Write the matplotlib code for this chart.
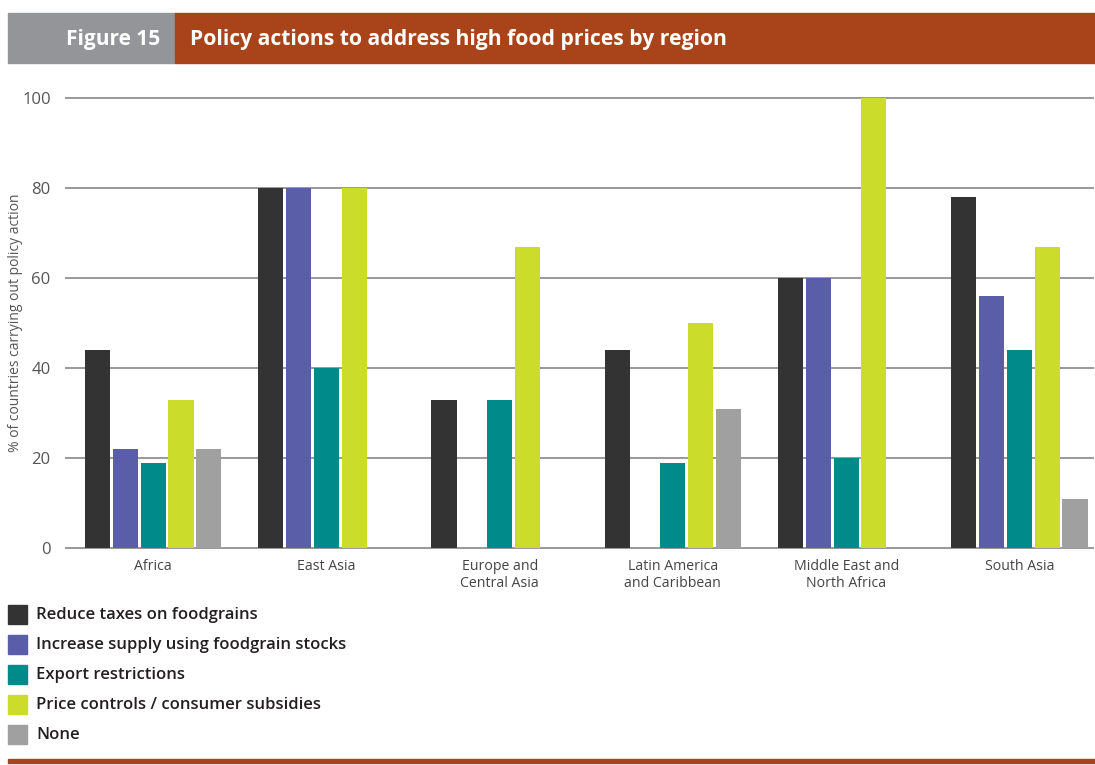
import matplotlib
matplotlib.use("Agg")
import matplotlib.pyplot as plt
import numpy as np
from matplotlib.patches import Rectangle
from matplotlib import font_manager

regions = ["Africa", "East Asia", "Europe and\nCentral Asia", "Latin America\nand Caribbean",
           "Middle East and\nNorth Africa", "South Asia"]
series_names = ["Reduce taxes on foodgrains", "Increase supply using foodgrain stocks",
                "Export restrictions", "Price controls / consumer subsidies", "None"]
reduce_taxes = [44, 80, 33, 44, 60, 78]
increase_supply = [22, 80, 0, 0, 60, 56]
export_restrictions = [19, 40, 33, 19, 20, 44]
price_controls = [33, 80, 67, 50, 100, 67]
none_action = [22, 0, 0, 31, 0, 11]
yticks = [0, 20, 40, 60, 80, 100]

colors = ["#333333", "#5a5ea9", "#008b8a", "#ccdc2b", "#a0a0a0"]
series = [reduce_taxes, increase_supply, export_restrictions, price_controls, none_action]

W, H = 1095, 765
fig = plt.figure(figsize=(W / 100, H / 100), dpi=100)
fig.patch.set_facecolor("white")

font = "Open Sans"
installed = {f.name for f in font_manager.fontManager.ttflist}
narrow = "Liberation Sans Narrow" if "Liberation Sans Narrow" in installed else font

# Header band
fig.patches.append(Rectangle((8 / W, 1 - 63 / H), (175 - 8) / W, 50 / H,
                             transform=fig.transFigure, color="#939598", zorder=0))
fig.patches.append(Rectangle((175 / W, 1 - 63 / H), (1095 - 175) / W, 50 / H,
                             transform=fig.transFigure, color="#a9441a", zorder=0))
fig.text(160 / W, 1 - 39 / H, "Figure 15", color="white", fontsize=15, fontweight="bold",
         family=font, ha="right", va="center")
fig.text(190 / W, 1 - 39 / H, "Policy actions to address high food prices by region",
         color="white", fontsize=15.2, fontweight="bold", family=font, ha="left", va="center")

# Bottom rule
fig.patches.append(Rectangle((8 / W, 1 - 763 / H), (1095 - 8) / W, 4 / H,
                             transform=fig.transFigure, color="#a9441a", zorder=0))

ax = fig.add_axes([66 / W, 1 - 548 / H, (1093 - 66) / W, (548 - 98) / H])
x = np.arange(len(regions))
pitch = 0.1605
width = 0.145
for i, (vals, c) in enumerate(zip(series, colors)):
    ax.bar(x + (i - 2) * pitch, vals, width=width, color=c, zorder=3, linewidth=0)

ax.set_xlim(-0.503, 5.425)
ax.set_ylim(0, 100)
for s in ax.spines.values():
    s.set_visible(False)
for yv in yticks:
    ax.axhline(yv, color="#999999", lw=1.4, zorder=1, clip_on=False)
ax.set_yticks(yticks)
ax.set_yticklabels([str(v) for v in yticks], family=narrow, fontsize=12, color="#555555")
ax.tick_params(axis="y", length=0, pad=11)
ax.set_xticks(x)
ax.set_xticklabels(regions, family=font, fontsize=10.2, color="#444444", linespacing=1.15)
ax.tick_params(axis="x", length=0, pad=8)
fig.text(16 / W, 1 - 323 / H, "% of countries carrying out policy action", family=font,
         fontsize=10, color="#555555", rotation=90, ha="center", va="center")

# Legend
for i, (name, c) in enumerate(zip(series_names, colors)):
    ytop = 605 + i * 30
    fig.patches.append(Rectangle((8 / W, 1 - (ytop + 19) / H), 19 / W, 19 / H,
                                 transform=fig.transFigure, color=c, zorder=2))
    fig.text(36 / W, 1 - (ytop + 10) / H, name, color="#231f20", fontsize=12,
             fontweight="semibold", family=font, ha="left", va="center")

fig.savefig("out.png", dpi=100, facecolor="white")
